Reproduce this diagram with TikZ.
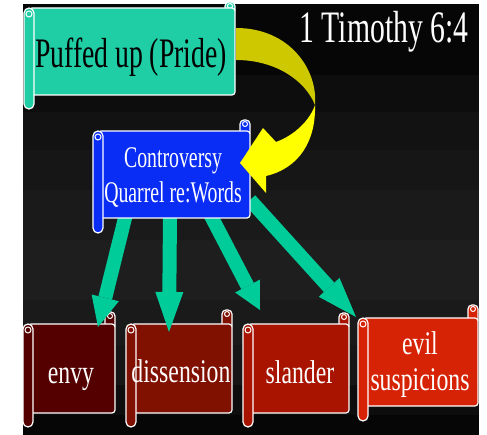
\documentclass[tikz,border=0pt]{standalone}
\usepackage{fontspec}
\newfontfamily\condserif[FakeStretch=0.66]{Liberation Serif}
\newfontfamily\condserifb[FakeStretch=0.72]{Liberation Serif}
\usetikzlibrary{arrows.meta}
\definecolor{tealbox}{RGB}{32,206,166}
\definecolor{arrowgreen}{RGB}{0,204,153}
\definecolor{bluebox}{RGB}{10,45,245}
\definecolor{envyc}{RGB}{85,0,0}
\definecolor{dissc}{RGB}{128,16,0}
\definecolor{slandc}{RGB}{168,20,0}
\definecolor{evilc}{RGB}{215,35,5}
\definecolor{yelldark}{RGB}{205,200,0}
\definecolor{yellbright}{RGB}{255,255,0}
\definecolor{bgA}{RGB}{6,6,6}
\definecolor{bgB}{RGB}{13,13,13}
\definecolor{bgC}{RGB}{18,18,18}
\definecolor{bgD}{RGB}{22,22,22}
\definecolor{bgE}{RGB}{26,26,26}
\definecolor{bgF}{RGB}{30,30,30}
\definecolor{bgG}{RGB}{26,26,26}
\definecolor{bgH}{RGB}{12,12,12}
\tikzset{
  scrollline/.style={draw=white, line width=1.2pt},
  lbl/.style={inner sep=0pt, anchor=base},
  bottomlbl/.style={lbl, text=white, font=\condserifb\fontsize{33}{36}\selectfont},
  greenarrow/.style={draw=arrowgreen, line width=14pt},
}
% #1 fill, #2 left, #3 top, #4 right, #5 bottom, #6 strip bottom, #7 curl top
\newcommand\scrollshape[7]{%
  \filldraw[scrollline, fill=#1, rounded corners=4pt] (#4-10,#7) rectangle (#4,#3+6);
  \draw[white, line width=1pt] (#4-5,#7+4) circle (2.5pt);
  \filldraw[scrollline, fill=#1, rounded corners=3pt] (#2+5,#3) rectangle (#4,#5);
  \filldraw[scrollline, fill=#1, rounded corners=5pt] (#2,#3) rectangle (#2+10,#6);
  \draw[white, line width=1pt] (#2+5,#3+6) circle (3pt);
}
\begin{document}
\begin{tikzpicture}[x=1pt,y=-1pt]
\useasboundingbox (0,0) rectangle (487,435);
\fill[white] (0,0) rectangle (487,435);
% banded slide background
\fill[bgA] (23,4) rectangle (479,75);
\fill[bgB] (23,75) rectangle (479,112);
\fill[bgC] (23,112) rectangle (479,150);
\fill[bgD] (23,150) rectangle (479,190);
\fill[bgE] (23,190) rectangle (479,240);
\fill[bgF] (23,240) rectangle (479,300);
\fill[bgG] (23,300) rectangle (479,345);
\fill[bgD] (23,345) rectangle (479,385);
\fill[bgB] (23,385) rectangle (479,415);
\fill[bgA] (23,415) rectangle (479,435);

% top box
\scrollshape{tealbox}{24}{8}{235}{95}{109}{2}
\node[lbl, text=black, font=\condserif\fontsize{42}{46}\selectfont] (puffed) at (131,68) {Puffed up (Pride)};
\node[lbl, text=white, font=\condserif\fontsize{45}{50}\selectfont] (timothy) at (384,43) {1 Timothy 6:4};

% yellow curved arrow (back part)
\fill[yelldark] (236,28) .. controls (290,28) and (318,70) .. (315,105)
  .. controls (305,80) and (275,60) .. (236,60) -- cycle;

% bottom boxes
\scrollshape{envyc}{23}{324}{115}{413}{427}{312}
\scrollshape{dissc}{126}{324}{232}{413}{427}{310}
\scrollshape{slandc}{243}{324}{349}{413}{427}{313}
\scrollshape{evilc}{358}{318}{478}{406}{421}{305}
\node[bottomlbl] (envy) at (71,383) {envy};
\node[bottomlbl] (dissension) at (181,382) {dissension};
\node[bottomlbl] (slander) at (300,383) {slander};
\node[bottomlbl] (evil) at (420,355) {evil};
\node[bottomlbl] (suspicions) at (420,390) {suspicions};

% green arrows
\coordinate (a1s) at (126,214); \coordinate (a1e) at (98,327);
\coordinate (a2s) at (170,214); \coordinate (a2e) at (169,332);
\coordinate (a3s) at (210,214); \coordinate (a3e) at (260,310);
\coordinate (a4s) at (250,200); \coordinate (a4e) at (356,317);
\draw[greenarrow, -{Triangle[length=30pt,width=28pt,line width=0pt]}] (a1s) -- (a1e);
\draw[greenarrow, -{Triangle[length=40pt,width=28pt,line width=0pt]}] (a2s) -- (a2e);
\draw[greenarrow, -{Triangle[length=27pt,width=28pt,line width=0pt]}] (a3s) -- (a3e);
\draw[greenarrow, -{Triangle[length=40pt,width=28pt,line width=0pt]}] (a4s) -- (a4e);

% controversy box
\scrollshape{bluebox}{93}{131}{250}{218}{233}{120}
\node[lbl, text=white, font=\condserif\fontsize{30}{35}\selectfont] (contro) at (173,168) {Controversy};
\node[lbl, text=white, font=\condserif\fontsize{30}{35}\selectfont] (contro2) at (173,203) {Quarrel re:Words};

% yellow curved arrow (front part with head)
\fill[yellbright] (315,105) .. controls (316,140) and (300,168) .. (266,176)
  -- (266,193) -- (240,163) -- (263,128) -- (276,142)
  .. controls (295,135) and (310,120) .. (315,105) -- cycle;
\end{tikzpicture}
\end{document}
